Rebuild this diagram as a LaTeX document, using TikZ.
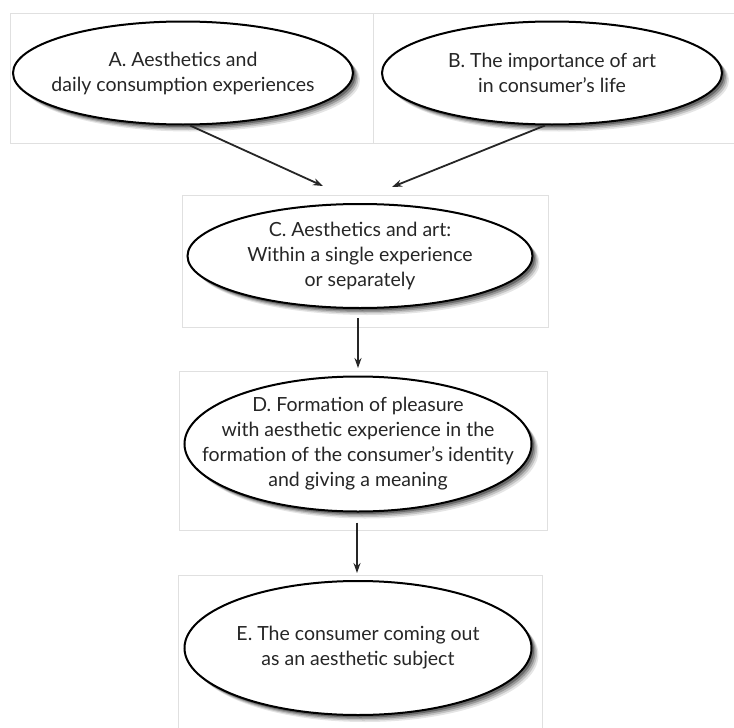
\documentclass[tikz,border=0pt]{standalone}
\usepackage{fontspec}
\setmainfont{Lato}
\usetikzlibrary{shapes.geometric,shadows,arrows.meta}
\begin{document}
\begin{tikzpicture}[x=1pt,y=-1pt,
  panel/.style={draw=black!12, line width=1pt},
  bubble/.style={ellipse, draw=black, line width=2pt, fill=white, inner sep=-45pt,
    align=center, text=black!85, font=\fontsize{19.5}{25}\selectfont,
    general shadow={fill=black, opacity=0.10, shadow xshift=7pt, shadow yshift=-7pt},
    general shadow={fill=black, opacity=0.15, shadow xshift=5.5pt, shadow yshift=-5.5pt},
    general shadow={fill=black, opacity=0.22, shadow xshift=4pt, shadow yshift=-4pt},
    general shadow={fill=black, opacity=0.30, shadow xshift=2.5pt, shadow yshift=-2.5pt}},
  arr/.style={-{Stealth[length=10pt,width=7pt]}, line width=1.8pt, black!85}]
\useasboundingbox (0,0) rectangle (734,728);
\fill[white] (0,0) rectangle (734,728);
% panels
\node[panel, rectangle, minimum width=363pt, minimum height=130pt, anchor=north west, inner sep=0pt] (boxA) at (10,13) {};
\node[panel, rectangle, minimum width=370pt, minimum height=130pt, anchor=north west, inner sep=0pt] (boxB) at (373,13) {};
\node[panel, rectangle, minimum width=366pt, minimum height=132pt, anchor=north west, inner sep=0pt] (boxC) at (182,195) {};
\node[panel, rectangle, minimum width=368pt, minimum height=159pt, anchor=north west, inner sep=0pt] (boxD) at (179,371) {};
\coordinate (eTL) at (178,575);
\coordinate (eTR) at (542,575);
\draw[panel] (178,740) -- (eTL) -- (eTR) -- (542,740);
% ellipses
\node[bubble, minimum width=340pt, minimum height=103pt] (A) at (183,73) {A. Aesthetics and\\daily consumption experiences};
\node[bubble, minimum width=340pt, minimum height=103pt] (B) at (552,73) {B. The importance of art\\in consumer’s life};
\node[bubble, minimum width=345pt, minimum height=104pt] (C) at (360,256) {C. Aesthetics and art:\\Within a single experience\\or separately};
\node[bubble, minimum width=347pt, minimum height=135pt] (D) at (358,444) {D. Formation of pleasure\\with aesthetic experience in the\\formation of the consumer’s identity\\and giving a meaning};
\node[bubble, minimum width=347pt, minimum height=134pt] (E) at (358,648) {E. The consumer coming out\\as an aesthetic subject};
% arrow targets
\coordinate (cA) at (323,186);
\coordinate (cB) at (392,187);
% connectors
\draw[arr] ([xshift=7pt]A.south) -- (cA);
\draw[arr] ([xshift=-7pt]B.south) -- (cB);
\draw[arr, shorten <=9pt, shorten >=3pt] ([xshift=-2pt]C.south) -- ([xshift=-2pt]C.south |- boxD.north);
\draw[arr, shorten <=10pt, shorten >=2pt] ([xshift=-1pt]D.south) -- ([xshift=-1pt]D.south |- eTL);
\end{tikzpicture}
\end{document}
